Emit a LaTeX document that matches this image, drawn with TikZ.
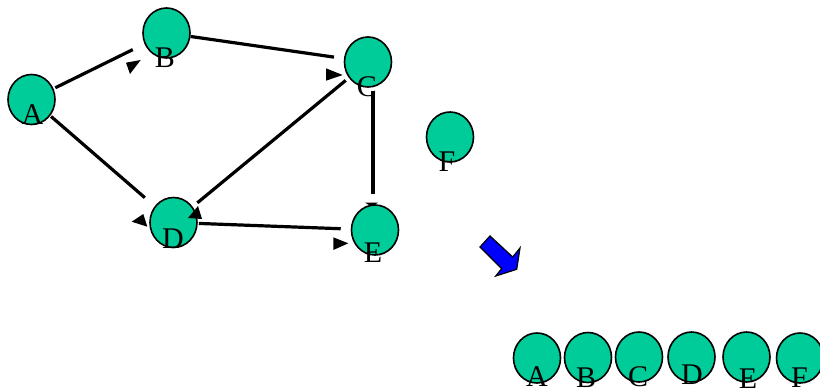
\documentclass[tikz,border=0pt]{standalone}
\usepackage{fontspec}
\setmainfont{Liberation Serif}
\usetikzlibrary{shapes.geometric}
\definecolor{nodegreen}{RGB}{0,204,153}
\begin{document}
\begin{tikzpicture}[x=1pt,y=-1pt,
  vertex/.style={ellipse,draw=black,line width=1.6pt,fill=nodegreen,
    minimum width=47pt,minimum height=50pt,inner sep=0pt},
  tag/.style={anchor=base,inner sep=0pt,font=\fontsize{30}{30}\selectfont},
  edge/.style={line width=3.2pt},
  head/.style={fill=black}]
\useasboundingbox (0,0) rectangle (820,388);

% small tip mostly hidden behind E
\fill[head] (365,202.5) -- (378,202.5) -- (372,207) -- cycle;

% graph vertices
\node[vertex] (A) at (31.5,99.5) {};
\node[vertex] (B) at (166.5,33) {};
\node[vertex] (C) at (368,62) {};
\node[vertex] (D) at (173.5,222.5) {};
\node[vertex] (E) at (375,230) {};
\node[vertex] (F) at (450,137) {};

% edges
\draw[edge,shorten <=2pt,shorten >=13pt] (A) -- (B);
\draw[edge,shorten >=10pt] (B) -- (C);
\draw[edge,shorten <=1pt,shorten >=13pt] (A) -- (D);
\draw[edge,shorten <=4pt,shorten >=6pt] (C) -- (D);
\draw[edge] ([xshift=5pt,yshift=-3pt]C.south) -- ([xshift=-2pt,yshift=10pt]E.north);
\draw[edge,shorten <=10pt,shorten >=1pt] (E) -- (D);

% arrow tips
\fill[head] (126,62.7) -- (140.7,60) -- (130,74) -- cycle;
\fill[head] (326,68.3) -- (342.7,75) -- (326,80.7) -- cycle;
\fill[head] (131.7,221.7) -- (143.3,214) -- (147.3,226.7) -- cycle;
\fill[head] (188,218) -- (198,206) -- (202,219) -- cycle;
\fill[head] (333.3,237.3) -- (348.3,243.3) -- (333.3,250) -- cycle;

% labels
\node[tag] (tA) at (32.5,124) {A};
\node[tag] (tB) at (165,67) {B};
\node[tag] (tC) at (367,96) {C};
\node[tag] (tD) at (173,248) {D};
\node[tag] (tE) at (373,262) {E};
\node[tag] (tF) at (447,171) {F};

% block arrow
\filldraw[fill=blue,draw=black,line width=1.2pt,line join=miter]
  (490,236) -- (512.7,257) -- (520,248) -- (516.7,269.3) -- (495.7,276)
  -- (501.7,268.7) -- (480,247) -- cycle;

% ordered row
\node[vertex] (oA) at (537,358) {};
\node[vertex] (oB) at (588,357.5) {};
\node[vertex] (oC) at (639,357) {};
\node[vertex] (oD) at (691.5,357) {};
\node[vertex] (oE) at (746.5,357) {};
\node[vertex] (oF) at (800,358) {};
\node[tag] (toA) at (537,386) {A};
\node[tag] (toB) at (586,387) {B};
\node[tag] (toC) at (638,386) {C};
\node[tag] (toD) at (692,384) {D};
\node[tag] (toE) at (748,388) {E};
\node[tag] (toF) at (799.5,387) {F};
\end{tikzpicture}
\end{document}
